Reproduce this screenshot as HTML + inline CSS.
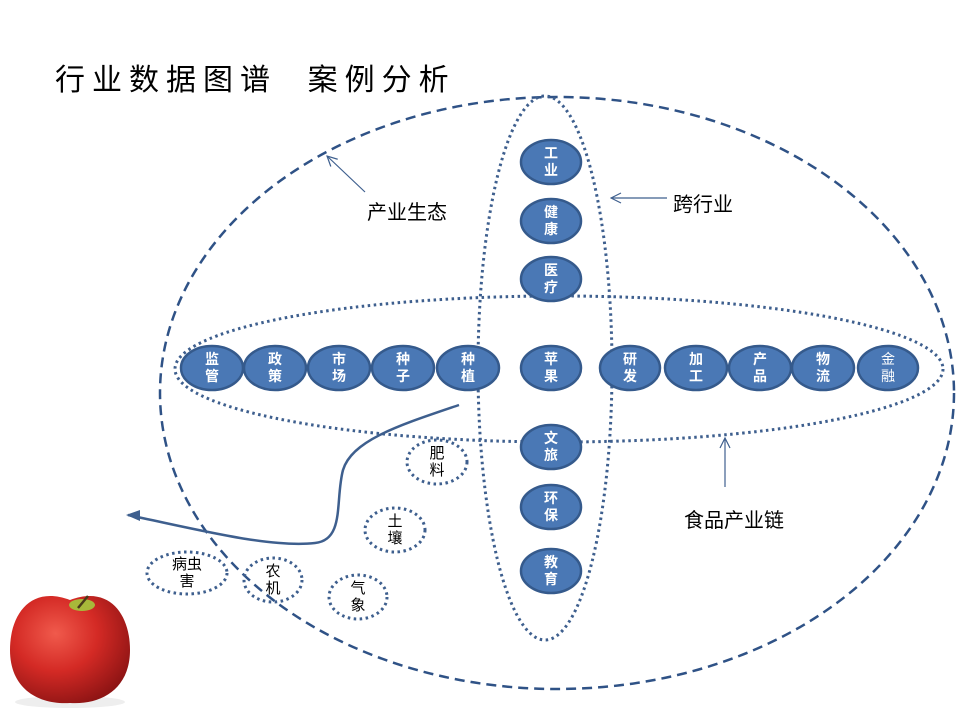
<!DOCTYPE html>
<html><head><meta charset="utf-8"><style>
html,body{margin:0;padding:0;background:#fff;}
svg{display:block;font-family:"Liberation Sans","Noto Sans CJK SC",sans-serif;}
.n{fill:#4a78b5;stroke:#355a8c;stroke-width:2.5;}
.nt{fill:#fff;font-size:14px;font-weight:bold;text-anchor:middle;}
.s{fill:none;stroke:#3e5f8e;stroke-width:3;stroke-dasharray:2.5 3.5;}
.st{fill:#000;font-size:15px;text-anchor:middle;}
</style></head><body>
<svg width="960" height="720" viewBox="0 0 960 720">
<defs>
<radialGradient id="ap" cx="0.38" cy="0.35" r="0.7">
<stop offset="0" stop-color="#f05a4c"/><stop offset="0.5" stop-color="#d42a25"/><stop offset="1" stop-color="#8e1414"/>
</radialGradient>
<marker id="ah" markerWidth="12" markerHeight="12" refX="11" refY="6" orient="auto" markerUnits="userSpaceOnUse">
<path d="M1,1 L11,6 L1,11" fill="none" stroke="#3e5f8e" stroke-width="1.2"/></marker>
</defs>
<text x="55" y="90" font-size="30" letter-spacing="7" fill="#000" xml:space="preserve">行业数据图谱  案例分析</text>
<ellipse cx="557" cy="393" rx="397" ry="296" fill="none" stroke="#2f5286" stroke-width="2.5" stroke-dasharray="10 6"/>
<ellipse cx="545" cy="368" rx="67" ry="272" class="s"/>
<ellipse cx="559" cy="369" rx="384" ry="73" class="s"/>
<g>
<ellipse class="n" cx="212" cy="368" rx="31" ry="22"/><ellipse class="n" cx="275" cy="368" rx="31" ry="22"/>
<ellipse class="n" cx="339" cy="368" rx="31" ry="22"/><ellipse class="n" cx="403" cy="368" rx="31" ry="22"/>
<ellipse class="n" cx="468" cy="368" rx="31" ry="22"/><ellipse class="n" cx="551" cy="368" rx="30" ry="22"/>
<ellipse class="n" cx="630" cy="368" rx="30" ry="22"/><ellipse class="n" cx="696" cy="368" rx="31" ry="22"/>
<ellipse class="n" cx="760" cy="368" rx="31" ry="22"/><ellipse class="n" cx="823" cy="368" rx="31" ry="22"/>
<ellipse class="n" cx="888" cy="368" rx="30" ry="22"/>
<ellipse class="n" cx="551" cy="162" rx="30" ry="22"/><ellipse class="n" cx="551" cy="221" rx="30" ry="22"/>
<ellipse class="n" cx="551" cy="279" rx="30" ry="22"/><ellipse class="n" cx="551" cy="447" rx="30" ry="22"/>
<ellipse class="n" cx="551" cy="507" rx="30" ry="22"/><ellipse class="n" cx="551" cy="571" rx="30" ry="22"/>
</g>
<g class="nt">
<text x="212" y="364">监</text><text x="212" y="381">管</text>
<text x="275" y="364">政</text><text x="275" y="381">策</text>
<text x="339" y="364">市</text><text x="339" y="381">场</text>
<text x="403" y="364">种</text><text x="403" y="381">子</text>
<text x="468" y="364">种</text><text x="468" y="381">植</text>
<text x="551" y="364">苹</text><text x="551" y="381">果</text>
<text x="630" y="364">研</text><text x="630" y="381">发</text>
<text x="696" y="364">加</text><text x="696" y="381">工</text>
<text x="760" y="364">产</text><text x="760" y="381">品</text>
<text x="823" y="364">物</text><text x="823" y="381">流</text>
<text x="888" y="364" font-weight="normal">金</text><text x="888" y="381" font-weight="normal">融</text>
<text x="551" y="158">工</text><text x="551" y="175">业</text>
<text x="551" y="217">健</text><text x="551" y="234">康</text>
<text x="551" y="275">医</text><text x="551" y="292">疗</text>
<text x="551" y="443">文</text><text x="551" y="460">旅</text>
<text x="551" y="503">环</text><text x="551" y="520">保</text>
<text x="551" y="567">教</text><text x="551" y="584">育</text>
</g>
<ellipse class="s" cx="437" cy="462" rx="30" ry="22"/>
<ellipse class="s" cx="395" cy="530" rx="30" ry="22"/>
<ellipse class="s" cx="187" cy="573" rx="40" ry="21"/>
<ellipse class="s" cx="273" cy="580" rx="29" ry="22"/>
<ellipse class="s" cx="358" cy="597" rx="29" ry="22"/>
<g class="st">
<text x="437" y="458">肥</text><text x="437" y="475">料</text>
<text x="395" y="526">土</text><text x="395" y="543">壤</text>
<text x="187" y="569">病虫</text><text x="187" y="586">害</text>
<text x="273" y="576">农</text><text x="273" y="593">机</text>
<text x="358" y="593">气</text><text x="358" y="610">象</text>
</g>
<path d="M459,405 C400,425 352,440 343,470 C335,500 345,540 315,543 C270,548 200,530 128,515" fill="none" stroke="#3e5f8e" stroke-width="2.5"/>
<path d="M140,510 L126,515 L140,521 Z" fill="#3e5f8e"/>
<line x1="365" y1="192" x2="327" y2="156" stroke="#3e5f8e" stroke-width="1.2" marker-end="url(#ah)"/>
<line x1="667" y1="198" x2="611" y2="198" stroke="#3e5f8e" stroke-width="1.2" marker-end="url(#ah)"/>
<line x1="725" y1="487" x2="725" y2="438" stroke="#3e5f8e" stroke-width="1.2" marker-end="url(#ah)"/>
<text x="367" y="219" font-size="20" fill="#000">产业生态</text>
<text x="673" y="211" font-size="20" fill="#000">跨行业</text>
<text x="684" y="527" font-size="20" fill="#000">食品产业链</text>
<ellipse cx="70" cy="702" rx="55" ry="6" fill="#eee"/>
<path d="M70,600 C30,585 10,615 10,650 C10,690 40,705 70,703 C100,705 130,690 130,650 C130,615 110,585 70,600 Z" fill="url(#ap)"/>
<ellipse cx="82" cy="605" rx="13" ry="6" fill="#a8b83a"/>
<path d="M78,608 L88,596" stroke="#4a3a1a" stroke-width="2.5"/>
</svg>
</body></html>
